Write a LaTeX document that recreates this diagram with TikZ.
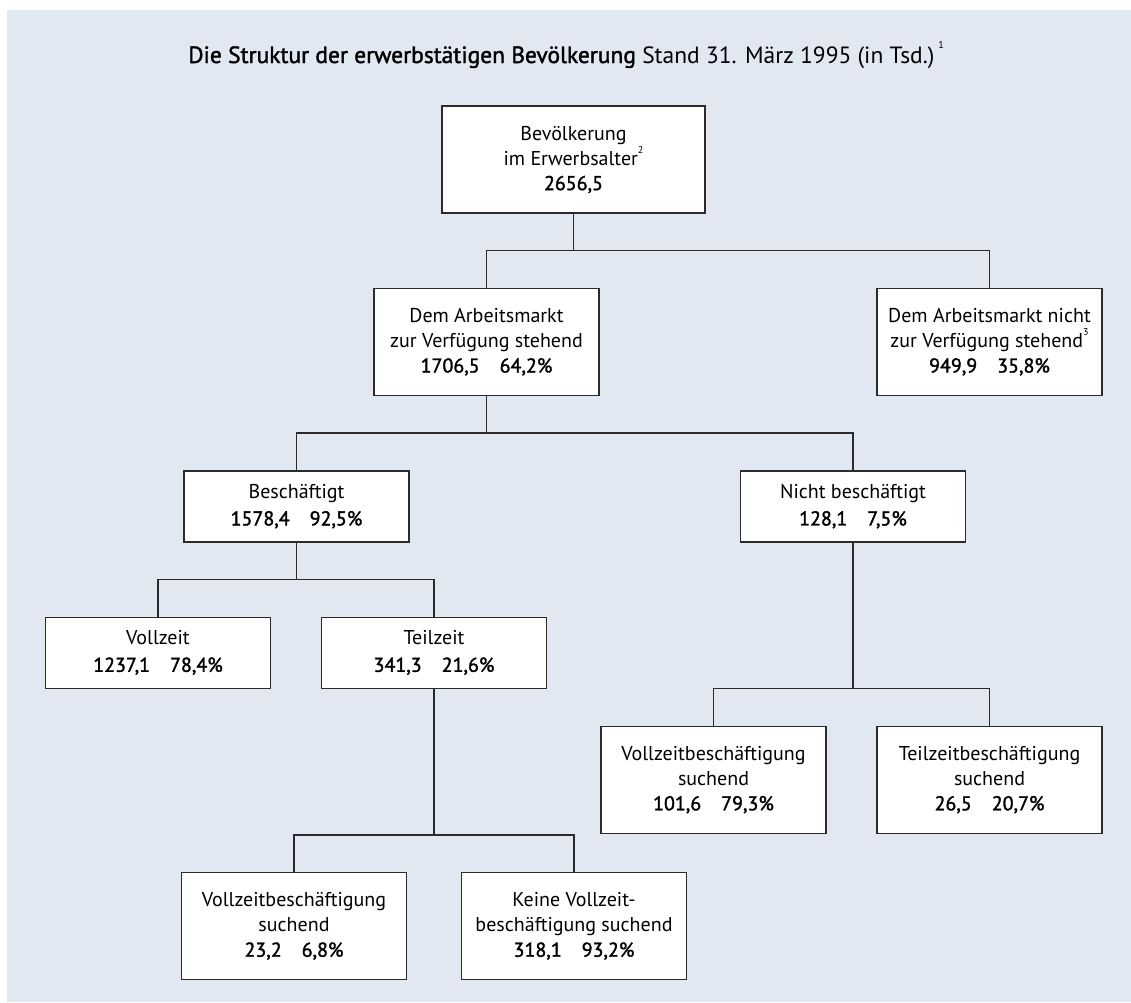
\documentclass[tikz,border=0pt]{standalone}
\usepackage{fontspec}
\setmainfont{PT Sans}
\newfontfamily\semib[FakeBold=1.6]{PT Sans}
\usetikzlibrary{positioning}
\definecolor{Bg}{HTML}{E1E8F2}
\definecolor{Line}{HTML}{2B2B2B}
\newcommand{\fnote}[1]{\raisebox{0.6em}{\fontsize{10}{10}\selectfont #1}}
\newcommand{\num}[1]{{\semib #1}}

\begin{document}
\begin{tikzpicture}[x=1pt,y=-1pt,
 node distance=74pt,
 w/.style={draw=Line,line width=1.4pt,fill=white,minimum width=225pt,minimum height=107pt,align=center,inner sep=4pt,font=\fontsize{20}{25}\selectfont},
 v/.style={w,minimum height=71pt,font=\fontsize{20}{27}\selectfont},
 l/.style={draw=Line,line width=1.3pt}
]
\fill[Bg] (7,10) rectangle (1131,1002);
\useasboundingbox (0,0) rectangle (1131,1002);
\node[anchor=base,font=\fontsize{23.5}{25}\selectfont] (title) at (566,63) {\num{Die Struktur der erwerbstätigen Bevölkerung} Stand 31. März 1995 (in Tsd.)\,\fnote{1}};
\node[w,minimum width=263pt] (b0) at (573.5,159.5) {Bevölkerung\\im Erwerbsalter\fnote{2}\\\num{2656,5}};
\node[w,below=of b0,xshift=-87pt] (b1) {Dem Arbeitsmarkt\\zur Verfügung stehend\\\num{1706,5\quad 64,2\%}};
\node[w,below=of b0,xshift=416pt] (b2) {Dem Arbeitsmarkt nicht\\zur Verfügung stehend\fnote{3}\\\num{949,9\quad 35,8\%}};
\node[v,below=of b1,xshift=-190pt] (b3) {Beschäftigt\\\num{1578,4\quad 92,5\%}};
\node[v,below=of b1,xshift=366.5pt] (b4) {Nicht beschäftigt\\\num{128,1\quad 7,5\%}};
\node[v,below=of b3,xshift=-138.5pt] (b5) {Vollzeit\\\num{1237,1\quad 78,4\%}};
\node[v,below=of b3,xshift=137.5pt] (b6) {Teilzeit\\\num{341,3\quad 21,6\%}};
\node[w,below=183pt of b4,xshift=-139.5pt] (b7) {Vollzeitbeschäftigung\\suchend\\\num{101,6\quad 79,3\%}};
\node[w,below=183pt of b4,xshift=136.5pt] (b8) {Teilzeitbeschäftigung\\suchend\\\num{26,5\quad 20,7\%}};
\node[w,below=183pt of b6,xshift=-140pt] (b9) {Vollzeitbeschäftigung\\suchend\\\num{23,2\quad 6,8\%}};
\node[w,below=183pt of b6,xshift=140pt] (b10) {Keine Vollzeit-\\beschäftigung suchend\\\num{318,1\quad 93,2\%}};
% Verbindungen
\coordinate[above=37pt of b1.north] (j0);
\coordinate[above=37pt of b3.north] (j1);
\coordinate[above=37pt of b5.north] (j3);
\coordinate[above=37pt of b7.north] (j4);
\coordinate[above=37pt of b9.north] (j6);
\draw[l] (b0.south) -- (b0.south|-j0);\draw[l] (b1.north) -- (j0) -| (b2.north);
\draw[l] (b1.south) -- (b1.south|-j1);\draw[l] (b3.north) -- (j1) -| (b4.north);
\draw[l] (b3.south) -- (b3.south|-j3);\draw[l] (b5.north) -- (j3) -| (b6.north);
\draw[l] (b4.south) -- (b4.south|-j4);\draw[l] (b7.north) -- (j4) -| (b8.north);
\draw[l] (b6.south) -- (b6.south|-j6);\draw[l] (b9.north) -- (j6) -| (b10.north);
\end{tikzpicture}
\end{document}
